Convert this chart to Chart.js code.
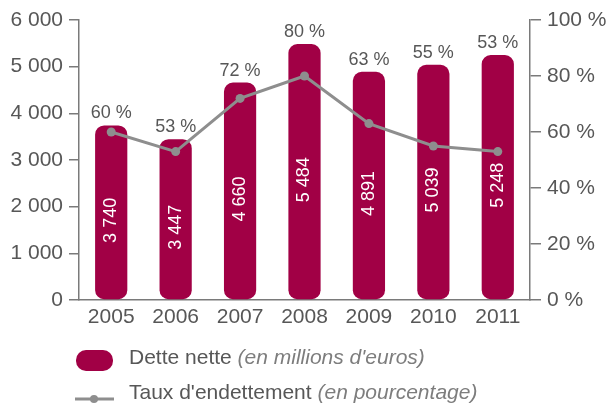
<!DOCTYPE html>
<html>
<head>
<meta charset="utf-8">
<script src="https://cdn.jsdelivr.net/npm/chart.js@4/dist/chart.umd.min.js"></script>
<style>
  html, body { margin: 0; padding: 0; background: #ffffff; }
  #wrap { position: relative; width: 608px; height: 405px; }
</style>
</head>
<body>
<div id="wrap"><canvas id="c" width="608" height="405"></canvas></div>
<script>
const years = ['2005', '2006', '2007', '2008', '2009', '2010', '2011'];
const detteNette = [3740, 3447, 4660, 5484, 4891, 5039, 5248];
const tauxEndettement = [60, 53, 72, 80, 63, 55, 53];
const legendLabels = [
  ['Dette nette', '(en millions d\'euros)'],
  ['Taux d\'endettement', '(en pourcentage)']
];

const BAR_COLOR = '#A10045';
const LINE_COLOR = '#8E8E8E';
const TEXT_COLOR = '#575757';
const AXIS_COLOR = '#7a7a7a';
const FONT = '"Liberation Sans", Arial, Helvetica, sans-serif';

function fmt(n) {
  return String(n).replace(/\B(?=(\d{3})+(?!\d))/g, ' ');
}

const labelPlugin = {
  id: 'labels',
  afterDatasetDraw(chart, args) {
    if (args.index !== 1) return; // bar dataset
    const ctx = chart.ctx;
    const barMeta = chart.getDatasetMeta(1);
    ctx.save();
    barMeta.data.forEach((bar, i) => {
      const base = bar.base;
      const top = bar.y;
      ctx.save();
      ctx.translate(bar.x, (base + top) / 2 + 8);
      ctx.rotate(-Math.PI / 2);
      ctx.font = '18px ' + FONT;
      ctx.fillStyle = '#ffffff';
      ctx.textAlign = 'center';
      ctx.textBaseline = 'middle';
      ctx.fillText(fmt(detteNette[i]), 0, 0);
      ctx.restore();
    });
    ctx.restore();
  },
  afterDatasetsDraw(chart) {
    const ctx = chart.ctx;
    const barMeta = chart.getDatasetMeta(1);
    ctx.save();
    barMeta.data.forEach((bar, i) => {
      ctx.font = '18px ' + FONT;
      ctx.fillStyle = TEXT_COLOR;
      ctx.textAlign = 'center';
      ctx.textBaseline = 'middle';
      ctx.fillText(tauxEndettement[i] + ' %', bar.x, bar.y - 12);
    });
    ctx.restore();
  },
  afterDraw(chart) {
    const ctx = chart.ctx;
    ctx.save();
    ctx.fillStyle = BAR_COLOR;
    ctx.beginPath();
    ctx.roundRect(76, 350, 37, 21, 10);
    ctx.fill();
    ctx.strokeStyle = LINE_COLOR;
    ctx.lineWidth = 3;
    ctx.beginPath();
    ctx.moveTo(75, 399);
    ctx.lineTo(114, 399);
    ctx.stroke();
    ctx.fillStyle = LINE_COLOR;
    ctx.beginPath();
    ctx.arc(94, 399, 4, 0, Math.PI * 2);
    ctx.fill();
    const rows = [358, 393];
    legendLabels.forEach((lab, i) => {
      ctx.textAlign = 'left';
      ctx.textBaseline = 'middle';
      ctx.font = '21px ' + FONT;
      ctx.fillStyle = TEXT_COLOR;
      ctx.fillText(lab[0], 129, rows[i]);
      const w = ctx.measureText(lab[0] + ' ').width;
      ctx.font = 'italic 21px ' + FONT;
      ctx.fillStyle = '#7d7d7d';
      ctx.fillText(lab[1], 129 + w, rows[i]);
    });
    ctx.restore();
  }
};

new Chart(document.getElementById('c'), {
  data: {
    labels: years,
    datasets: [
      {
        type: 'line',
        label: 'Taux d\'endettement',
        data: tauxEndettement,
        yAxisID: 'yPct',
        borderColor: LINE_COLOR,
        backgroundColor: LINE_COLOR,
        borderWidth: 3,
        pointRadius: 4.5,
        pointBackgroundColor: LINE_COLOR,
        pointBorderWidth: 0,
        tension: 0,
        order: 0
      },
      {
        type: 'bar',
        label: 'Dette nette',
        data: detteNette,
        yAxisID: 'y',
        backgroundColor: BAR_COLOR,
        borderRadius: 9,
        borderSkipped: false,
        categoryPercentage: 1,
        barPercentage: 0.5,
        order: 1
      }
    ]
  },
  options: {
    responsive: false,
    animation: false,
    devicePixelRatio: 1,
    layout: { padding: { top: 20, bottom: 0, left: 0, right: 0 } },
    plugins: { legend: { display: false }, tooltip: { enabled: false } },
    scales: {
      x: {
        grid: { display: false, drawTicks: false },
        border: { display: true, color: AXIS_COLOR, width: 1.5 },
        ticks: { color: TEXT_COLOR, font: { family: FONT, size: 21 }, padding: 5 },
        afterFit(s) { s.height = 105; }
      },
      y: {
        position: 'left',
        min: 0, max: 6000,
        ticks: { stepSize: 1000, color: TEXT_COLOR, font: { family: FONT, size: 21 }, padding: 6,
          callback: v => fmt(v) },
        grid: { drawOnChartArea: false, drawTicks: true, tickLength: 10, color: AXIS_COLOR, lineWidth: 1.5 },
        border: { display: true, color: AXIS_COLOR, width: 1.5 },
        afterFit(s) { s.width = 79; }
      },
      yPct: {
        position: 'right',
        min: 0, max: 100,
        ticks: { stepSize: 20, color: TEXT_COLOR, font: { family: FONT, size: 21 }, padding: 6,
          callback: v => v + ' %' },
        grid: { drawOnChartArea: false, drawTicks: true, tickLength: 11, color: AXIS_COLOR, lineWidth: 1.5 },
        border: { display: true, color: AXIS_COLOR, width: 1.5 },
        afterFit(s) { s.width = 78; }
      }
    }
  },
  plugins: [labelPlugin]
});
</script>
</body>
</html>
